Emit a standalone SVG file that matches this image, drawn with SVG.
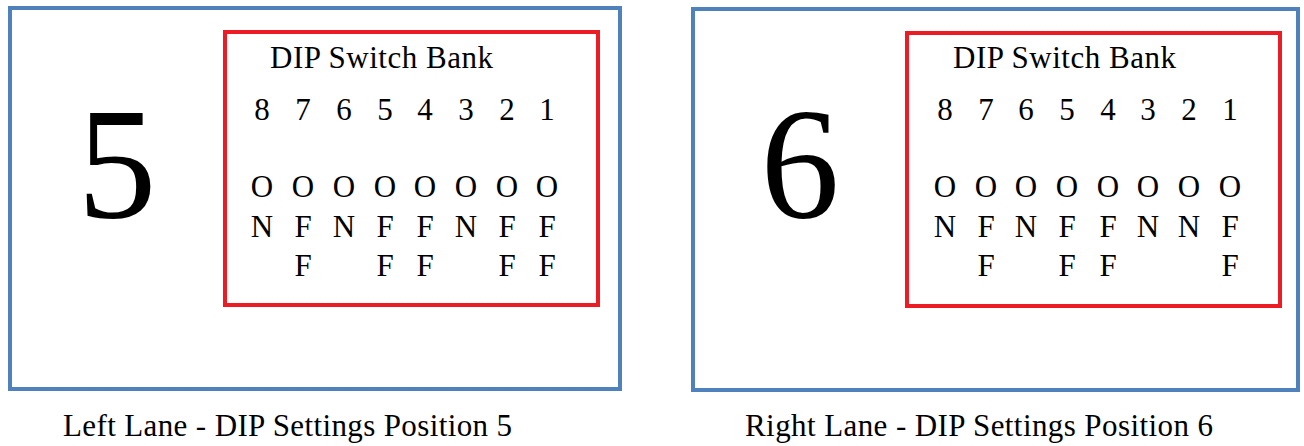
<svg xmlns="http://www.w3.org/2000/svg" width="1304" height="446" viewBox="0 0 1304 446">
<style>
.blue{fill:none;stroke:#4f81bd;stroke-width:4}
.red{fill:none;stroke:#ed1c24;stroke-width:4}
text{font-family:"Liberation Serif","Times New Roman",serif;fill:#000}
.t{font-size:31px}
.big{font-size:158px;text-anchor:middle}
.c{font-size:31px;text-anchor:middle}
</style>
<rect width="1304" height="446" fill="#fff"/>
<g id="left-panel">
<rect class="blue" x="10" y="8" width="610" height="381"/>
<text class="big" x="117" y="217">5</text>
<rect class="red" x="225" y="32" width="373" height="273"/>
<text class="t" x="270" y="68" textLength="223">DIP Switch Bank</text>
<text class="c" x="262" y="120">8</text><text class="c" x="303" y="120">7</text><text class="c" x="344" y="120">6</text><text class="c" x="385" y="120">5</text><text class="c" x="425" y="120">4</text><text class="c" x="466" y="120">3</text><text class="c" x="507" y="120">2</text><text class="c" x="547" y="120">1</text>
<text class="c" x="262" y="197">O</text><text class="c" x="303" y="197">O</text><text class="c" x="344" y="197">O</text><text class="c" x="385" y="197">O</text><text class="c" x="425" y="197">O</text><text class="c" x="466" y="197">O</text><text class="c" x="507" y="197">O</text><text class="c" x="547" y="197">O</text>
<text class="c" x="262" y="237">N</text><text class="c" x="303" y="237">F</text><text class="c" x="344" y="237">N</text><text class="c" x="385" y="237">F</text><text class="c" x="425" y="237">F</text><text class="c" x="466" y="237">N</text><text class="c" x="507" y="237">F</text><text class="c" x="547" y="237">F</text>
<text class="c" x="303" y="276">F</text><text class="c" x="385" y="276">F</text><text class="c" x="425" y="276">F</text><text class="c" x="507" y="276">F</text><text class="c" x="547" y="276">F</text>
<text class="t" x="63" y="436" textLength="449">Left Lane - DIP Settings Position 5</text>
</g>
<g id="right-panel">
<rect class="blue" x="693" y="9" width="605" height="381"/>
<text class="big" x="800" y="217">6</text>
<rect class="red" x="907" y="33" width="373" height="273"/>
<text class="t" x="953" y="68" textLength="223">DIP Switch Bank</text>
<text class="c" x="945" y="120">8</text><text class="c" x="986" y="120">7</text><text class="c" x="1026" y="120">6</text><text class="c" x="1067" y="120">5</text><text class="c" x="1108" y="120">4</text><text class="c" x="1148" y="120">3</text><text class="c" x="1189" y="120">2</text><text class="c" x="1230" y="120">1</text>
<text class="c" x="945" y="197">O</text><text class="c" x="986" y="197">O</text><text class="c" x="1026" y="197">O</text><text class="c" x="1067" y="197">O</text><text class="c" x="1108" y="197">O</text><text class="c" x="1148" y="197">O</text><text class="c" x="1189" y="197">O</text><text class="c" x="1230" y="197">O</text>
<text class="c" x="945" y="237">N</text><text class="c" x="986" y="237">F</text><text class="c" x="1026" y="237">N</text><text class="c" x="1067" y="237">F</text><text class="c" x="1108" y="237">F</text><text class="c" x="1148" y="237">N</text><text class="c" x="1189" y="237">N</text><text class="c" x="1230" y="237">F</text>
<text class="c" x="986" y="276">F</text><text class="c" x="1067" y="276">F</text><text class="c" x="1108" y="276">F</text><text class="c" x="1230" y="276">F</text>
<text class="t" x="745" y="436" textLength="468">Right Lane - DIP Settings Position 6</text>
</g>
<g id="connectors"></g>
</svg>
